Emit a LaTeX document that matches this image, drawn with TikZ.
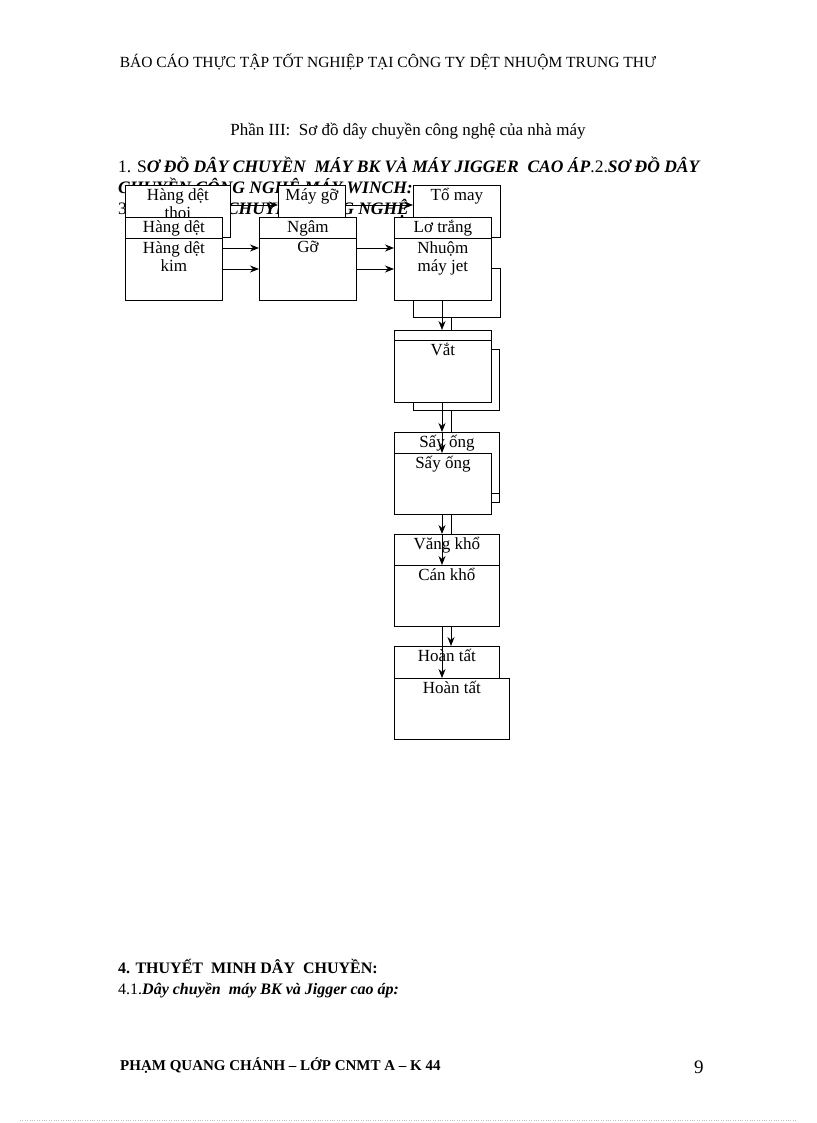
\documentclass[tikz,border=0pt]{standalone}
\usepackage{fontspec}
\setmainfont{Liberation Serif}
\usetikzlibrary{arrows.meta,calc}
\begin{document}
\begin{tikzpicture}[x=1pt,y=-1pt,
  bx/.style={draw,fill=white,line width=0.8pt,inner sep=0pt,anchor=north west},
  lbl/.style={anchor=north,inner sep=0pt,font=\fontsize{17}{18}\selectfont,align=center},
  arr/.style={-{Stealth[length=9pt,width=7pt]},line width=0.8pt},
  txt/.style={inner sep=0pt,anchor=west,font=\fontsize{16}{17}\selectfont}]
\useasboundingbox (0,0) rectangle (816,1123);
\newcommand{\bx}[6]{\node[bx,minimum width={(#4-#2)*1pt},minimum height={(#5-#3)*1pt}] (#1) at (#2,#3) {};
  \node[lbl] (#1t) at ($(#1.north)+(0,3)$) {#6};}
% texts
\node[txt,anchor=center,font=\fontsize{15.5}{16}\selectfont] (h) at (388,62) {BÁO CÁO THỰC TẬP TỐT NGHIỆP TẠI CÔNG TY DỆT NHUỘM TRUNG THƯ};
\node[txt,anchor=center,font=\fontsize{17}{18}\selectfont] (p) at (408,131) {Phần III:\ \ Sơ đồ dây chuyền công nghệ của nhà máy};
\node[txt] (l1) at (118,165) {\fontsize{17.5}{18}\selectfont 1. S\textbf{\textit{Ơ ĐỒ DÂY CHUYỀN\ \ MÁY BK VÀ MÁY JIGGER\ \ CAO ÁP}}.2.\textbf{\textit{SƠ ĐỒ DÂY}}};
\node[txt] (l2) at (118,187) {\fontsize{17.5}{18}\selectfont\textbf{\textit{CHUYỀN CÔNG NGHỆ MÁY WINCH:}}};
\node[txt] (l3) at (118,208) {\fontsize{17.5}{18}\selectfont 3.\textbf{\textit{SƠ ĐỒ DÂY CHUYỀN CÔNG NGHỆ MÁY JET:}}};
\node[txt] (b1) at (118,966) {\textbf{4. THUYẾT\ \ MINH DÂY\ \ CHUYỀN:}};
\node[txt] (b2) at (118,990) {4.1.\textbf{\textit{Dây chuyền\ \ máy BK và Jigger cao áp:}}};
\node[txt,font=\fontsize{15}{16}\selectfont] (f1) at (120,1066) {\textbf{PHẠM QUANG CHÁNH -- LỚP CNMT A -- K 44}};
\node[txt,font=\fontsize{19}{20}\selectfont] (f2) at (694,1067) {9};
\coordinate (d1) at (20,1120); \coordinate (d2) at (796,1120);
\draw[gray!50,dotted] (d1) -- (d2);
% back vertical line
\coordinate (v1) at (451,317); \coordinate (v2) at (451,646);
\draw[arr] (v1) -- (v2);
% back row
\bx{thoi}{125}{185}{230}{237}{Hàng dệt\\thoi}
\bx{maygo}{278}{185}{345}{217}{Máy gỡ}
\bx{tomay}{413}{185}{500}{237}{Tổ may}
\draw[arr] (thoi.east |- 0,205) -- (maygo.west |- 0,205);
\draw[arr] (maygo.east |- 0,205) -- (tomay.west |- 0,205);
% middle row
\bx{hdet}{125}{217}{222}{262}{Hàng dệt}
\bx{ngam}{259}{217}{356}{262}{Ngâm}
\bx{lotr}{394}{217}{491}{262}{Lơ trắng}
\bx{jetb}{413}{268}{500}{317}{}
% front row
\bx{kim}{125}{238}{222}{300}{Hàng dệt\\kim}
\bx{go}{259}{238}{356}{300}{Gỡ}
\bx{jet}{394}{238}{491}{300}{Nhuộm\\máy jet}
\foreach \yy in {248,269}{
  \draw[arr] (kim.east |- 0,\yy) -- (go.west |- 0,\yy);
  \draw[arr] (go.east |- 0,\yy) -- (jet.west |- 0,\yy);}
% column
\bx{vatb2}{413}{349}{499}{410}{}
\bx{vatb}{394}{330}{491}{402}{}
\bx{vat}{394}{340}{491}{402}{Vắt}
\bx{sayb2}{413}{470}{499}{493}{}
\bx{sayb}{394}{432}{499}{502}{Sấy ống}
\coordinate (s1) at (491,493); \coordinate (s2) at (499,493);
\draw[line width=0.8pt] (s1) -- (s2);
\bx{say}{394}{453}{491}{514}{Sấy ống}
\bx{vang}{394}{534}{499}{626}{Văng khổ}
\bx{can}{394}{565}{499}{626}{Cán khổ}
\bx{hoanb}{394}{646}{499}{700}{Hoàn tất}
\bx{hoan}{394}{678}{509}{739}{Hoàn tất}
% front arrows
\draw[arr] (jet.south -| 442,0) -- (vatb.north -| 442,0);
\draw[arr] (vat.south -| 442,0) -- (sayb.north -| 442,0);
\draw[arr] (sayb.north -| 442,0) -- (say.north -| 442,0);
\draw[arr] (say.south -| 442,0) -- (vang.north -| 442,0);
\draw[arr] (vang.north -| 442,0) -- (can.north -| 442,0);
\draw[arr] (can.south -| 442,0) -- (hoan.north -| 442,0);
\end{tikzpicture}
\end{document}
